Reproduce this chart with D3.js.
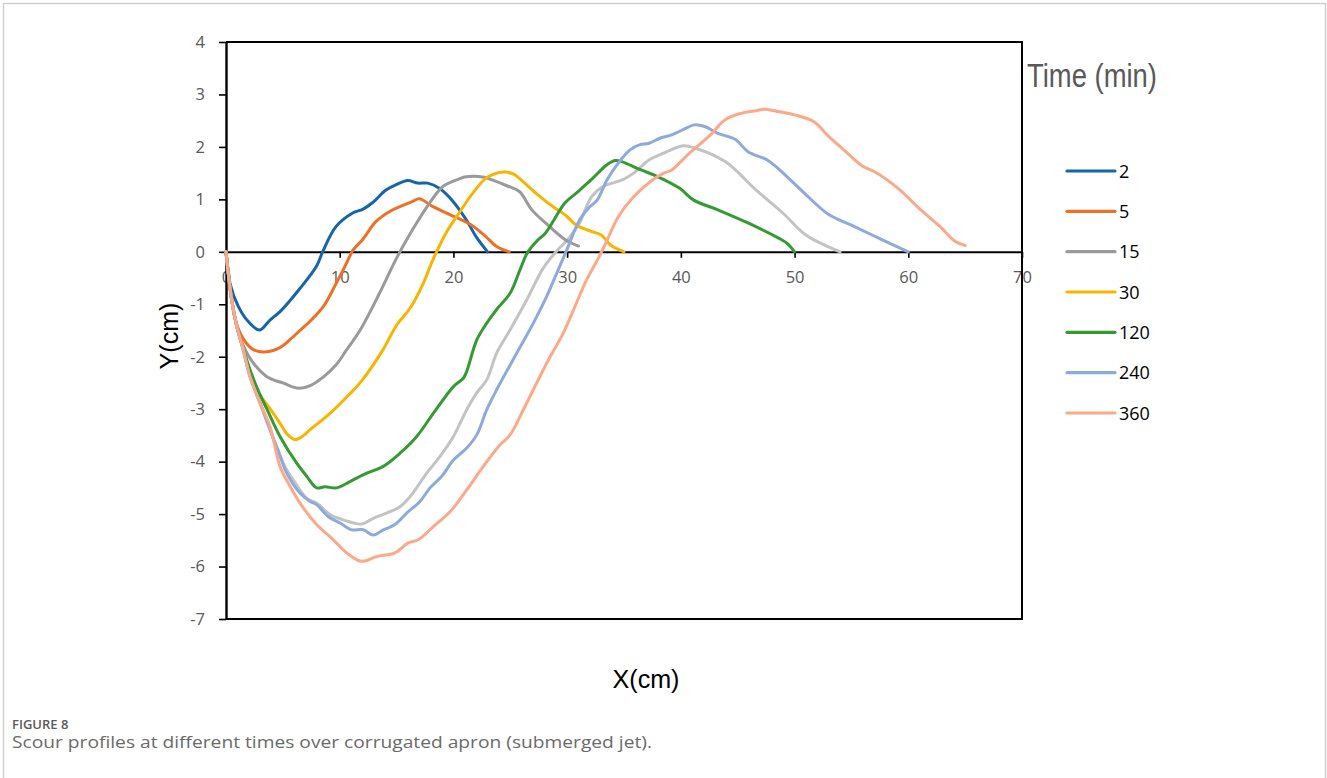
<!DOCTYPE html>
<html>
<head>
<meta charset="utf-8">
<script src="https://cdn.jsdelivr.net/npm/d3@7"></script>
<style>
  html, body { margin: 0; padding: 0; background: #fff; }
  svg { display: block; }
</style>
</head>
<body>
<svg id="chart" width="1327" height="778"></svg>
<script>
// Scour profiles: X (cm) along the apron, Y (cm) bed level; one profile per elapsed time.
const timeLabels = ["2", "5", "15", "30", "120", "240", "360"];
const seriesColors = ["#1764ab", "#ee7027", "#9a9a9a", "#f7b400", "#349a32", "#8ea9db", "#fca98a"];

const x2 = [0, 0.35, 1.08, 1.96, 2.93, 3.87, 4.8, 6.5, 7.97, 8.5, 9.67, 11.14, 12.02, 12.9, 14.07, 14.95, 15.98, 16.86, 17.74, 18.76, 19.93, 21.1, 21.99, 23.0];
const y2 = [0, -0.6, -1.04, -1.33, -1.49, -1.3, -1.13, -0.7, -0.27, 0.0, 0.48, 0.74, 0.81, 0.94, 1.18, 1.28, 1.36, 1.31, 1.31, 1.21, 0.97, 0.62, 0.29, 0.0];

const x5 = [0, 0.5, 0.9, 1.5, 2.3, 3.3, 4.7, 5.6, 6.5, 7.5, 8.6, 9.6, 10.5, 11.2, 12.0, 13.2, 14.4, 15.5, 16.4, 17.0, 18.2, 19.6, 21.5, 22.8, 23.8, 24.9];
const y5 = [0, -0.9, -1.35, -1.65, -1.85, -1.91, -1.83, -1.68, -1.5, -1.3, -1.03, -0.64, -0.26, 0.04, 0.23, 0.58, 0.77, 0.88, 0.96, 1.01, 0.86, 0.72, 0.52, 0.3, 0.1, 0.0];

const x15 = [0, 0.5, 0.95, 1.5, 2.4, 3.6, 5.0, 6.4, 7.5, 8.6, 9.7, 10.6, 11.8, 13.5, 15.0, 16.4, 17.9, 19.1, 20.5, 21.1, 22.7, 23.4, 24.8, 25.8, 26.9, 28.1, 29.9, 31.0];
const y15 = [0, -0.92, -1.42, -1.78, -2.12, -2.38, -2.5, -2.6, -2.54, -2.38, -2.15, -1.87, -1.49, -0.79, -0.12, 0.42, 0.93, 1.25, 1.39, 1.43, 1.42, 1.37, 1.25, 1.15, 0.8, 0.55, 0.22, 0.11];

const x30 = [0, 0.5, 0.95, 1.5, 2.1, 2.9, 3.9, 4.75, 5.4, 6.07, 6.7, 7.4, 9.15, 10.7, 12.0, 13.8, 15.0, 16.2, 17.35, 18.2, 19.35, 20.5, 21.7, 22.9, 24.0, 24.6, 25.3, 25.8, 27.4, 28.95, 29.8, 30.8, 32.1, 33.0, 33.8, 35.0];
const y30 = [0, -0.92, -1.42, -1.85, -2.3, -2.7, -3.0, -3.27, -3.48, -3.58, -3.52, -3.39, -3.08, -2.75, -2.44, -1.87, -1.4, -1.07, -0.6, -0.15, 0.36, 0.74, 1.12, 1.41, 1.51, 1.52, 1.48, 1.4, 1.09, 0.83, 0.71, 0.51, 0.39, 0.32, 0.13, 0.0];

const x120 = [0, 0.5, 0.95, 1.55, 2.2, 2.9, 3.6, 4.75, 6.22, 7.1, 7.97, 8.7, 9.73, 10.9, 12.37, 13.83, 15.3, 16.77, 18.23, 20.0, 20.87, 21.17, 22.05, 22.93, 23.8, 24.98, 25.86, 26.5, 27.4, 28.1, 29.8, 30.8, 32.1, 33.5, 34.2, 34.8, 36.5, 37.9, 39.9, 41.1, 43.25, 45.9, 48.6, 49.3, 50.0];
const y120 = [0, -0.92, -1.42, -1.87, -2.3, -2.68, -3.0, -3.52, -4.03, -4.28, -4.5, -4.48, -4.5, -4.38, -4.22, -4.09, -3.84, -3.52, -3.08, -2.57, -2.41, -2.28, -1.68, -1.36, -1.1, -0.79, -0.34, -0.02, 0.22, 0.36, 0.93, 1.12, 1.37, 1.66, 1.74, 1.72, 1.56, 1.44, 1.21, 0.99, 0.8, 0.55, 0.26, 0.17, 0.0];

// Extra profile drawn in light grey, not listed in the legend
const xExtra = [0, 0.5, 0.95, 1.52, 2.11, 2.99, 3.87, 4.6, 5.2, 5.92, 7.1, 7.97, 9.15, 10.3, 11.93, 12.95, 14.13, 15.3, 16.18, 17.65, 18.82, 20.0, 21.17, 22.05, 22.93, 23.8, 24.98, 26.44, 27.9, 29.1, 30.0, 30.5, 31.1, 32.15, 33.2, 34.85, 35.85, 37.2, 38.5, 40.2, 41.2, 43.9, 46.6, 48.97, 51.0, 54.0];
const yExtra = [0, -0.92, -1.42, -1.87, -2.38, -2.88, -3.39, -3.8, -4.1, -4.35, -4.7, -4.79, -5.01, -5.11, -5.19, -5.08, -4.98, -4.86, -4.67, -4.22, -3.9, -3.52, -3.01, -2.69, -2.44, -1.93, -1.49, -0.92, -0.31, 0.02, 0.22, 0.36, 0.55, 1.05, 1.25, 1.37, 1.5, 1.75, 1.88, 2.02, 1.98, 1.72, 1.18, 0.74, 0.32, 0.0];

const x240 = [0, 0.5, 0.95, 1.52, 2.11, 2.99, 3.87, 4.6, 5.3, 6.5, 7.39, 7.97, 9.0, 10.03, 11.05, 12.07, 12.95, 13.83, 14.86, 15.89, 17.06, 17.94, 18.97, 20.0, 21.17, 22.05, 22.93, 23.8, 25.57, 27.03, 28.2, 29.08, 29.9, 31.1, 32.0, 32.65, 33.5, 34.5, 35.5, 36.35, 37.2, 38.2, 39.2, 40.2, 41.2, 42.1, 43.25, 44.8, 45.9, 47.6, 49.3, 51.0, 53.0, 55.0, 57.4, 60.0];
const y240 = [0, -0.92, -1.42, -1.87, -2.38, -2.88, -3.39, -3.8, -4.2, -4.6, -4.76, -4.82, -5.05, -5.17, -5.3, -5.3, -5.4, -5.3, -5.2, -4.98, -4.76, -4.5, -4.28, -3.97, -3.74, -3.49, -3.01, -2.63, -1.93, -1.36, -0.85, -0.41, 0.0, 0.61, 0.86, 0.99, 1.37, 1.69, 1.94, 2.04, 2.07, 2.17, 2.23, 2.33, 2.42, 2.39, 2.26, 2.14, 1.91, 1.75, 1.44, 1.09, 0.71, 0.51, 0.26, 0.0];

const x360 = [0, 0.5, 0.95, 1.52, 2.11, 2.99, 3.87, 4.75, 5.63, 6.5, 7.97, 9.44, 10.61, 11.93, 13.25, 14.86, 16.03, 16.91, 18.23, 19.85, 21.17, 22.63, 24.1, 24.98, 26.15, 27.32, 28.5, 29.66, 30.69, 31.72, 32.6, 33.3, 34.5, 35.85, 37.5, 38.5, 39.2, 40.6, 42.6, 43.9, 45.3, 46.6, 47.45, 48.65, 50.0, 51.7, 53.0, 54.35, 56.0, 57.0, 59.1, 61.1, 62.8, 64.1, 65.0];
const y360 = [0, -0.92, -1.42, -1.87, -2.38, -2.88, -3.33, -4.09, -4.47, -4.79, -5.2, -5.49, -5.74, -5.9, -5.81, -5.74, -5.55, -5.49, -5.24, -4.92, -4.54, -4.09, -3.68, -3.49, -3.01, -2.5, -2.0, -1.55, -1.04, -0.53, -0.18, 0.12, 0.67, 1.05, 1.37, 1.5, 1.56, 1.85, 2.23, 2.52, 2.64, 2.69, 2.72, 2.67, 2.61, 2.48, 2.2, 1.94, 1.63, 1.53, 1.21, 0.8, 0.48, 0.2, 0.12];

const xTicks = [0, 10, 20, 30, 40, 50, 60, 70];
const yTicks = [-7, -6, -5, -4, -3, -2, -1, 0, 1, 2, 3, 4];

const zip = (xs, ys) => xs.map((v, i) => [v, ys[i]]);
// drawing order: light grey underneath, then the listed profiles
const profiles = [
  { name: "extra", color: "#c3c3c3", pts: zip(xExtra, yExtra) },
  { name: timeLabels[0], color: seriesColors[0], pts: zip(x2, y2) },
  { name: timeLabels[1], color: seriesColors[1], pts: zip(x5, y5) },
  { name: timeLabels[2], color: seriesColors[2], pts: zip(x15, y15) },
  { name: timeLabels[3], color: seriesColors[3], pts: zip(x30, y30) },
  { name: timeLabels[4], color: seriesColors[4], pts: zip(x120, y120) },
  { name: timeLabels[5], color: seriesColors[5], pts: zip(x240, y240) },
  { name: timeLabels[6], color: seriesColors[6], pts: zip(x360, y360) }
];

const svg = d3.select("#chart");
const L = 226, R = 1022, T = 42, B = 619;
const x = d3.scaleLinear().domain([0, 70]).range([L, R]);
const y = d3.scaleLinear().domain([-7, 4]).range([B, T]);

// outer frame of the figure panel
svg.append("path")
  .attr("d", `M3.5,790 V3.5 H1325.5 V790`)
  .attr("fill", "none").attr("stroke", "#cfcfcf").attr("stroke-width", 1.5);

const tickFont = "'Open Sans', 'DejaVu Sans', sans-serif";
const plainNumber = d => String(d);   // hyphen-minus, as in the printed axis

// x axis along Y = 0
const xAxis = svg.append("g")
  .attr("transform", `translate(0,${y(0)})`)
  .call(d3.axisBottom(x).tickValues(xTicks).tickSize(6).tickSizeOuter(0).tickPadding(13).tickFormat(plainNumber));
xAxis.select(".domain").attr("stroke", "#000").attr("stroke-width", 2);
xAxis.selectAll(".tick line").attr("stroke", "#000").attr("stroke-width", 1.6);
xAxis.selectAll(".tick text").attr("fill", "#595959").style("font-family", tickFont).style("font-size", "16.5px");

// plot box top, right and bottom edges
svg.append("path")
  .attr("d", `M${L},${T} H${R} V${B} H${L}`)
  .attr("fill", "none").attr("stroke", "#000").attr("stroke-width", 2);

// y axis
const yAxis = svg.append("g")
  .attr("transform", `translate(${L},0)`)
  .call(d3.axisLeft(y).tickValues(yTicks).tickSize(7).tickSizeOuter(0).tickPadding(14).tickFormat(plainNumber));
yAxis.select(".domain").attr("stroke", "#000").attr("stroke-width", 2.4);
yAxis.selectAll(".tick line").attr("stroke", "#000").attr("stroke-width", 1.6);
yAxis.selectAll(".tick text").attr("fill", "#595959").style("font-family", tickFont).style("font-size", "16.5px");

// profiles
const line = d3.line()
  .x(d => x(d[0]))
  .y(d => y(d[1]))
  .curve(d3.curveCatmullRom.alpha(0.5));

svg.append("g").selectAll("path")
  .data(profiles)
  .join("path")
  .attr("d", d => line(d.pts))
  .attr("fill", "none")
  .attr("stroke", d => d.color)
  .attr("stroke-width", 3)
  .attr("stroke-linejoin", "round")
  .attr("stroke-linecap", "round");

// axis titles
const labelFont = "'Liberation Sans', Arial, sans-serif";
svg.append("text")
  .attr("x", 646).attr("y", 688)
  .attr("text-anchor", "middle")
  .style("font-family", labelFont).style("font-size", "26px").attr("fill", "#000")
  .attr("textLength", 67).attr("lengthAdjust", "spacingAndGlyphs")
  .text("X(cm)");

svg.append("text")
  .attr("transform", "translate(178,336) rotate(-90)")
  .attr("text-anchor", "middle")
  .style("font-family", labelFont).style("font-size", "26px").attr("fill", "#000")
  .attr("textLength", 67).attr("lengthAdjust", "spacingAndGlyphs")
  .text("Y(cm)");

// legend
svg.append("text")
  .attr("x", 1027).attr("y", 87)
  .style("font-family", labelFont).style("font-size", "33px").attr("fill", "#595959")
  .attr("textLength", 130).attr("lengthAdjust", "spacingAndGlyphs")
  .text("Time (min)");

const legendY = d3.scalePoint().domain(timeLabels).range([171, 413]);
const legend = svg.append("g").selectAll("g")
  .data(timeLabels)
  .join("g")
  .attr("transform", d => `translate(0,${legendY(d)})`);
legend.append("line")
  .attr("x1", 1067).attr("x2", 1115)
  .attr("stroke", (d, i) => seriesColors[i])
  .attr("stroke-width", 3.2)
  .attr("stroke-linecap", "round");
legend.append("text")
  .attr("x", 1119).attr("y", 6.5)
  .style("font-family", tickFont).style("font-size", "18px").attr("fill", "#000")
  .text(d => d);

// caption
svg.append("text")
  .attr("x", 12).attr("y", 729)
  .style("font-family", tickFont).style("font-size", "13px").style("font-weight", 600)
  .attr("fill", "#5a5a5a")
  .text("FIGURE 8");
svg.append("text")
  .attr("x", 12).attr("y", 748)
  .style("font-family", tickFont).style("font-size", "15.5px")
  .attr("fill", "#6a6a6a")
  .attr("textLength", 640).attr("lengthAdjust", "spacingAndGlyphs")
  .text("Scour profiles at different times over corrugated apron (submerged jet).");
</script>
</body>
</html>
